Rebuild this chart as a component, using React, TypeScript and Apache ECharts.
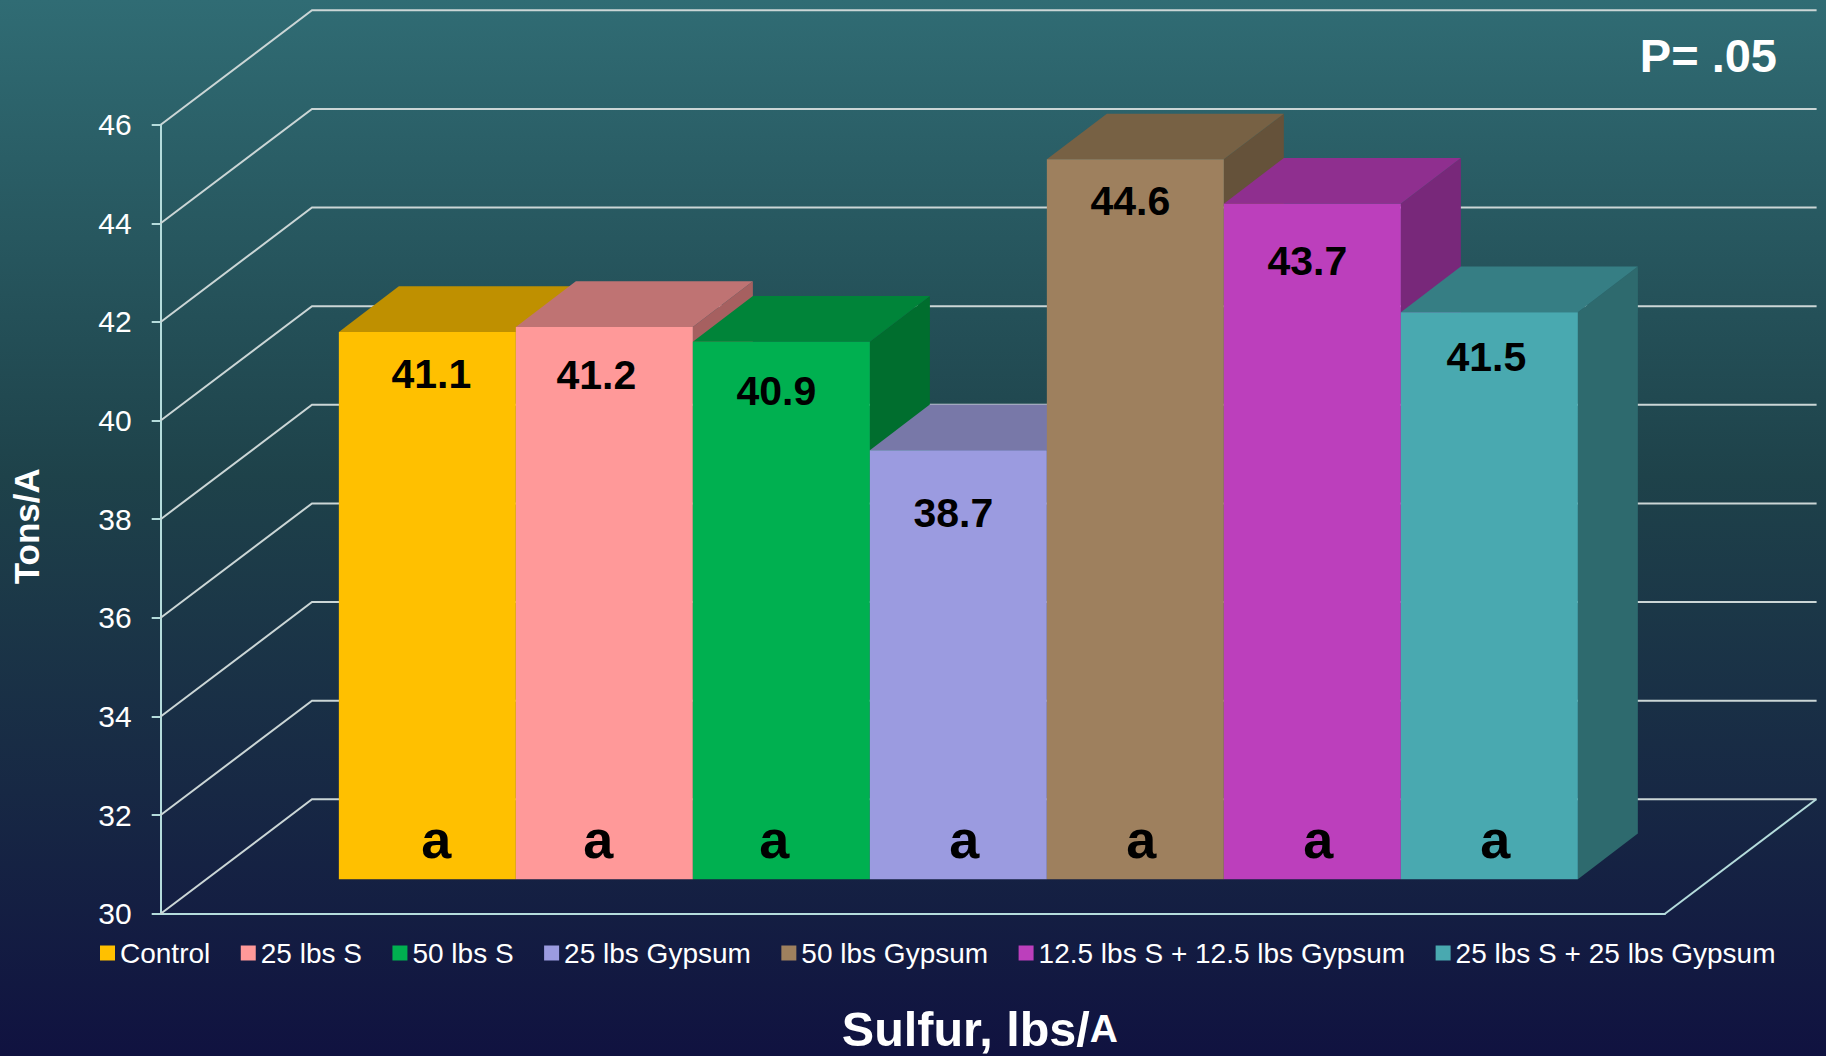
import React, { useEffect, useRef } from "react";
import * as echarts from "echarts";

const treatments = ["Control", "25 lbs S", "50 lbs S", "25 lbs Gypsum", "50 lbs Gypsum", "12.5 lbs S + 12.5 lbs Gypsum", "25 lbs S + 25 lbs Gypsum"];
const yields = [41.1, 41.2, 40.9, 38.7, 44.6, 43.7, 41.5];
const letters = ["a", "a", "a", "a", "a", "a", "a"];
const yTicks = [30, 32, 34, 36, 38, 40, 42, 44, 46];
const categories = ["Sulfur, lbs/A"];

const frontColors = ["#FFC000", "#FF9999", "#00B050", "#9B9BE0", "#9E805E", "#BC3FBC", "#49A9B0"];
const topColors = ["#BF9000", "#BF7373", "#008439", "#7878A8", "#776144", "#8F2F8F", "#367E84"];
const sideColors = ["#A67D00", "#A66060", "#006E2E", "#65658E", "#65523A", "#78287A", "#2E6A6E"];

// hand placed label nudges (px), relative to the bar centre and bar top
const valueDx = [4, -8, -5, -5, -5, -5, -3];
const valueDy = [42, 48, 49, 63, 42, 57, 45];
const letterDx = [9, -6, -7, 6, 6, 6, 6];

const W = 1826;
const H = 1056;
const GRID_LEFT = 160.7;
const GRID_RIGHT = 1665;
const GRID_TOP = 124.7;
const GRID_BOTTOM = 913.7;
const WALL_DX = 151.3;
const WALL_DY = 114.4;
const BAR_OFFSET_DX = 45.5;
const BAR_OFFSET_DY = 34.4;
const BAR_W = 177;
const BAR_DEPTH_DX = 60;
const BAR_DEPTH_DY = 45.7;
const LETTER_Y = 841;
const FONT = '"Liberation Sans", Arial, sans-serif';

export default function App() {
  const ref = useRef<HTMLDivElement>(null);
  useEffect(() => {
    const chart = echarts.init(ref.current!, undefined, { renderer: "svg" });

    const wallSeries: any = {
      type: "custom",
      name: "walls",
      silent: true,
      z: 1,
      data: yTicks.map((t) => [0, t]),
      encode: { x: 0, y: 1 },
      renderItem: (_p: any, api: any) => {
        const p = api.coord([0, api.value(1)]);
        const y = p[1];
        const lineStyle = { stroke: "#CBD6D6", lineWidth: 2, fill: "none" };
        const children: any[] = [
          {
            type: "polyline",
            shape: {
              points: [
                [GRID_LEFT, y],
                [GRID_LEFT + WALL_DX, y - WALL_DY],
                [W - 9.4, y - WALL_DY],
              ],
            },
            style: lineStyle,
          },
        ];
        if (api.value(1) === yTicks[0]) {
          children.push({
            type: "line",
            shape: { x1: GRID_RIGHT, y1: y, x2: GRID_RIGHT + WALL_DX, y2: y - WALL_DY },
            style: { stroke: "#B5DCDC", lineWidth: 2 },
          });
        }
        return { type: "group", children };
      },
    };

    const barSeries: any[] = treatments.map((name, i) => ({
      type: "custom",
      name,
      z: 2 + i,
      silent: true,
      itemStyle: { color: frontColors[i] },
      data: [[0, yields[i]]],
      encode: { x: 0, y: 1 },
      renderItem: (_p: any, api: any) => {
        const top = api.coord([0, api.value(1)]);
        const base = api.coord([0, yTicks[0]]);
        const x0 = top[0] + BAR_OFFSET_DX + (i - 3.5) * BAR_W;
        const x1 = x0 + BAR_W;
        const yT = top[1] - BAR_OFFSET_DY;
        const yB = base[1] - BAR_OFFSET_DY;
        const dx = BAR_DEPTH_DX;
        const dy = BAR_DEPTH_DY;
        return {
          type: "group",
          children: [
            {
              type: "polygon",
              shape: { points: [[x1, yT], [x1 + dx, yT - dy], [x1 + dx, yB - dy], [x1, yB]] },
              style: { fill: sideColors[i] },
            },
            {
              type: "polygon",
              shape: { points: [[x0, yT], [x0 + dx, yT - dy], [x1 + dx, yT - dy], [x1, yT]] },
              style: { fill: topColors[i] },
            },
            {
              type: "rect",
              shape: { x: x0, y: yT, width: BAR_W, height: yB - yT },
              style: { fill: frontColors[i] },
            },
            {
              type: "text",
              style: {
                text: api.value(1).toFixed(1),
                x: x0 + BAR_W / 2 + valueDx[i],
                y: yT + valueDy[i],
                align: "center",
                verticalAlign: "middle",
                fill: "#000000",
                font: `bold 41px ${FONT}`,
              },
            },
            {
              type: "text",
              style: {
                text: letters[i],
                x: x0 + BAR_W / 2 + letterDx[i],
                y: LETTER_Y - 2,
                align: "center",
                verticalAlign: "middle",
                fill: "#000000",
                font: `bold 54px ${FONT}`,
              },
            },
          ],
        };
      },
    }));

    chart.setOption({
      animation: false,
      backgroundColor: {
        type: "linear",
        x: 0,
        y: 0,
        x2: 0,
        y2: 1,
        colorStops: [
          { offset: 0, color: "#306C74" },
          { offset: 0.45, color: "#1E424A" },
          { offset: 0.75, color: "#172844" },
          { offset: 1, color: "#101240" },
        ],
      },
      textStyle: { fontFamily: FONT },
      grid: {
        left: GRID_LEFT,
        top: GRID_TOP,
        width: GRID_RIGHT - GRID_LEFT,
        height: GRID_BOTTOM - GRID_TOP,
        containLabel: false,
        outerBoundsMode: "none",
      },
      xAxis: {
        type: "category",
        data: categories,
        axisLabel: { show: false },
        axisTick: { show: false },
        axisLine: { show: true, lineStyle: { color: "#B5DCDC", width: 2 } },
        name: "{big|Sulfur, lbs/}{small|A}",
        nameLocation: "middle",
        nameGap: 95,
        nameTextStyle: {
          padding: [0, 0, 0, 134],
          rich: {
            big: { fontSize: 48.5, fontWeight: "bold", fontFamily: FONT, color: "#FFFFFF", lineHeight: 40 },
            small: { fontSize: 39, fontWeight: "bold", fontFamily: FONT, color: "#FFFFFF", lineHeight: 40 },
          },
        },
      },
      yAxis: {
        type: "value",
        min: 30,
        max: 46,
        interval: 2,
        splitLine: { show: false },
        axisLine: { show: true, lineStyle: { color: "#B5DCDC", width: 2 } },
        axisTick: { show: true, length: 9, lineStyle: { color: "#B5DCDC", width: 2 } },
        axisLabel: { color: "#FFFFFF", fontSize: 30, margin: 29, fontFamily: FONT },
        name: "Tons/A",
        nameLocation: "middle",
        nameGap: 117,
        nameTextStyle: { color: "#FFFFFF", fontSize: 35, fontWeight: "bold", fontFamily: FONT, padding: [0, 14, 0, 0] },
      },
      legend: {
        left: 100,
        top: 939,
        itemWidth: 15,
        itemHeight: 15,
        itemGap: 30.5,
        selectedMode: false,
        padding: 0,
        textStyle: { color: "#FFFFFF", fontSize: 28, fontFamily: FONT },
        data: treatments.map((name, i) => ({ name, icon: "rect", itemStyle: { color: frontColors[i] } })),
      },
      graphic: [
        {
          type: "text",
          style: {
            text: "P= .05",
            x: 1777,
            y: 55,
            align: "right",
            verticalAlign: "middle",
            fill: "#FFFFFF",
            font: `bold 47px ${FONT}`,
          },
        },
      ],
      series: [wallSeries, ...barSeries],
    });
    return () => chart.dispose();
  }, []);
  return <div ref={ref} style={{ position: "absolute", left: 0, top: 0, width: W, height: H }} />;
}
